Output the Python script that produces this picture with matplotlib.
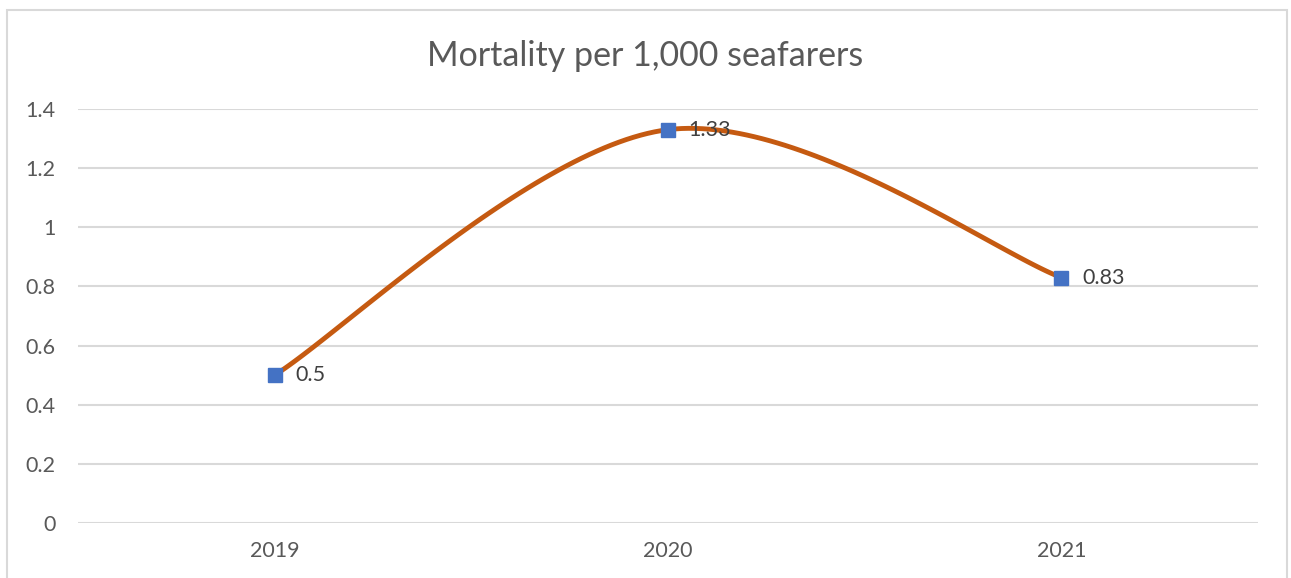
import numpy as np
import matplotlib.pyplot as plt
from matplotlib.patches import Rectangle

years = ['2019', '2020', '2021']
mortality = [0.5, 1.33, 0.83]
value_labels = ['0.5', '1.33', '0.83']
yticks = [0, 0.2, 0.4, 0.6, 0.8, 1, 1.2, 1.4]
ytick_labels = ['0', '0.2', '0.4', '0.6', '0.8', '1', '1.2', '1.4']

line_c = '#C55A11'
marker_c = '#4472C4'
text_c = '#595959'
grid_c = '#D9D9D9'

plt.rcParams['font.family'] = ['Lato', 'DejaVu Sans']

fig = plt.figure(figsize=(12.91, 5.78), dpi=100)
ax = fig.add_axes([0.0604, 0.0952, 0.914, 0.7163])

# Excel-style smoothed line (Catmull-Rom as cubic Bezier)
x = np.arange(len(years), dtype=float)
y = np.array(mortality)
px = np.concatenate([[x[0]], x, [x[-1]]])
py = np.concatenate([[y[0]], y, [y[-1]]])
cx, cy = [], []
t = np.linspace(0, 1, 60)
for i in range(len(x) - 1):
    p0 = np.array([x[i], y[i]])
    p3 = np.array([x[i + 1], y[i + 1]])
    p1 = p0 + (np.array([px[i + 2], py[i + 2]]) - np.array([px[i], py[i]])) / 6
    p2 = p3 - (np.array([px[i + 3], py[i + 3]]) - np.array([px[i + 1], py[i + 1]])) / 6
    b = ((1 - t) ** 3)[:, None] * p0 + (3 * (1 - t) ** 2 * t)[:, None] * p1 \
        + (3 * (1 - t) * t ** 2)[:, None] * p2 + (t ** 3)[:, None] * p3
    cx.extend(b[:, 0])
    cy.extend(b[:, 1])
ax.plot(cx, cy, color=line_c, lw=3.5, solid_capstyle='round', zorder=3)
ax.plot(x, y, ls='none', marker='s', ms=10, color=marker_c, zorder=4)

for xi, yi, lab in zip(x, y, value_labels):
    ax.annotate(lab, (xi, yi), xytext=(15, 0), textcoords='offset points',
                va='center', ha='left', fontsize=15.5, color='#404040', zorder=5)

ax.set_xlim(-0.5, len(years) - 0.5)
ax.set_ylim(0, 1.4)
ax.set_xticks(x)
ax.set_xticklabels(years)
ax.set_yticks(yticks)
ax.set_yticklabels(ytick_labels)
ax.tick_params(length=0, labelsize=15.5, colors=text_c)
ax.tick_params(axis='x', pad=13)
ax.tick_params(axis='y', pad=16)
ax.grid(axis='y', color=grid_c, lw=1.5)
ax.set_axisbelow(True)
for s in ax.spines.values():
    s.set_visible(False)

fig.text(0.4995, 0.903, 'Mortality per 1,000 seafarers', ha='center', va='center',
         fontsize=24.5, color=text_c)

fig.patches.append(Rectangle((7 / 1291, -0.1), 1280 / 1291, 1 - 10 / 578 + 0.1,
                             transform=fig.transFigure, fill=False,
                             edgecolor=grid_c, lw=1.5))

fig.savefig('out.png', dpi=100)
